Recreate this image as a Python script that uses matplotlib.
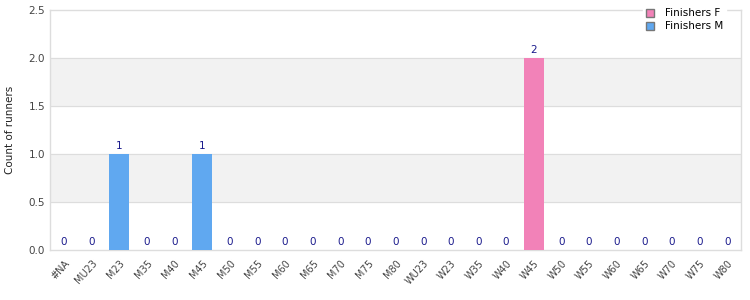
import matplotlib.pyplot as plt
from matplotlib.patches import Patch
import numpy as np

categories = ["#NA", "MU23", "M23", "M35", "M40", "M45", "M50", "M55", "M60", "M65",
              "M70", "M75", "M80", "WU23", "W23", "W35", "W40", "W45", "W50", "W55",
              "W60", "W65", "W70", "W75", "W80"]
finishers_m = [0, 0, 1, 0, 0, 1, 0, 0, 0, 0, 0, 0, 0, 0, 0, 0, 0, 0, 0, 0, 0, 0, 0, 0, 0]
finishers_f = [0, 0, 0, 0, 0, 0, 0, 0, 0, 0, 0, 0, 0, 0, 0, 0, 0, 2, 0, 0, 0, 0, 0, 0, 0]

col_m = "#60a8f0"
col_f = "#f282b8"
grid_col = "#dddddd"

fig = plt.figure(figsize=(7.5, 3), dpi=100)
ax = fig.add_axes([0.0667, 0.1667, 0.9213, 0.8])

x = np.arange(len(categories))
m = np.array(finishers_m)
f = np.array(finishers_f)
ax.bar(x, m, width=0.72, color=col_m, zorder=3)
ax.bar(x, f, width=0.72, bottom=m, color=col_f, zorder=3)

# total labels above each column
total = m + f
for xi, t in zip(x, total):
    ax.text(xi, t + 0.03, str(t), ha="center", va="bottom", fontsize=7.5,
            color="#1a1a8c", zorder=4)

ax.set_xlim(-0.5, len(categories) - 0.5)
ax.set_ylim(0, 2.5)
ax.set_yticks(np.arange(0, 2.51, 0.5))
ax.set_yticklabels([f"{v:.1f}" for v in np.arange(0, 2.51, 0.5)])
for lo in (0.5, 1.5):
    ax.axhspan(lo, lo + 0.5, color="#f2f2f2", zorder=0)
for v in np.arange(0.5, 2.5, 0.5):
    ax.axhline(v, color=grid_col, lw=0.8, zorder=1)

ax.set_xticks(x)
ax.set_xticklabels(categories, rotation=48, ha="right", rotation_mode="anchor",
                   fontsize=7, color="#444444")
ax.tick_params(axis="y", labelsize=7.5, colors="#444444", length=0)
ax.tick_params(axis="x", length=0, pad=6)
for s in ax.spines.values():
    s.set_color(grid_col)
    s.set_linewidth(1)

ax.set_ylabel("Count of runners", fontsize=7.5, color="#222222", labelpad=10)

handles = [Patch(facecolor=col_f, edgecolor="#777777", label="Finishers F"),
           Patch(facecolor=col_m, edgecolor="#777777", label="Finishers M")]
leg = fig.legend(handles=handles, loc="upper right", bbox_to_anchor=(0.975, 1.0),
                 fontsize=7.5, frameon=True, fancybox=False, handlelength=0.8,
                 handleheight=0.8, borderpad=0.3, labelspacing=0.3, handletextpad=1.0)
leg.get_frame().set_edgecolor("white")
leg.get_frame().set_facecolor("white")
leg.get_frame().set_alpha(1)

fig.savefig("out.png", dpi=100)
